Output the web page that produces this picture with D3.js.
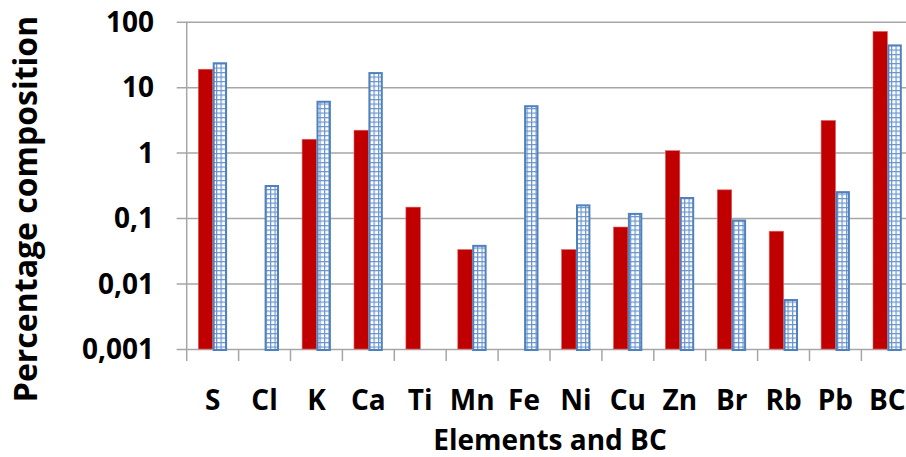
<!DOCTYPE html>
<html lang="en">
<head>
<meta charset="UTF-8">
<title>Percentage composition</title>
<script src="https://d3js.org/d3.v7.min.js"></script>
<style>
    body { margin: 0; background: #fff; font-family: "Open Sans", Arial, sans-serif; }
    svg text { font-weight: bold; fill: #000; }
</style>
</head>
<body>
<svg width="906" height="457"></svg>
<script>
    // categories along the x axis
    const categories = ["S", "Cl", "K", "Ca", "Ti", "Mn", "Fe", "Ni", "Cu", "Zn", "Br", "Rb", "Pb", "BC"];
    // red series (solid) and blue series (grid pattern), null = no bar
    const redValues  = [18.8, null, 1.6, 2.2, 0.147, 0.033, null, 0.033, 0.073, 1.07, 0.27, 0.063, 3.1, 71];
    const blueValues = [24, 0.32, 6.2, 17, null, 0.039, 5.3, 0.162, 0.12, 0.21, 0.095, 0.0058, 0.258, 45];
    const yTicks = [0.001, 0.01, 0.1, 1, 10, 100];
    const yTickLabels = ["0,001", "0,01", "0,1", "1", "10", "100"];

    const svg = d3.select("svg");
    const plotLeft = 186.7, plotTop = 21.7, plotBottom = 349;
    const step = 51.9;

    const x = d3.scaleBand()
        .domain(categories)
        .range([plotLeft, plotLeft + step * categories.length])
        .padding(0);

    const inner = d3.scaleBand()
        .domain(["red", "blue"])
        .range([11.6, 40.4])
        .padding(0);

    const y = d3.scaleLog()
        .domain([0.001, 100])
        .range([plotBottom, plotTop]);

    // pattern for blue bars
    const defs = svg.append("defs");
    const pat = defs.append("pattern")
        .attr("id", "grid")
        .attr("patternUnits", "userSpaceOnUse")
        .attr("width", 4.5).attr("height", 4.5);
    pat.append("rect").attr("width", 4.5).attr("height", 4.5).attr("fill", "#ffffff");
    pat.append("rect").attr("x", 0).attr("y", 0).attr("width", 1.2).attr("height", 4.5).attr("fill", "#6a95cc");
    pat.append("rect").attr("x", 0).attr("y", 0).attr("width", 4.5).attr("height", 1.2).attr("fill", "#6a95cc");

    // gridlines + y ticks
    const yAxis = d3.axisLeft(y)
        .tickValues(yTicks)
        .tickSize(-(x.range()[1] - plotLeft))
        .tickSizeOuter(0)
        .tickFormat("");
    const gy = svg.append("g")
        .attr("transform", `translate(${plotLeft},0)`)
        .call(yAxis);
    gy.select(".domain").remove();
    gy.selectAll(".tick line")
        .attr("x1", -10)
        .attr("stroke", "#a6a6a6")
        .attr("stroke-width", 1.5);

    // y-axis line
    svg.append("line")
        .attr("x1", plotLeft).attr("x2", plotLeft)
        .attr("y1", plotTop).attr("y2", plotBottom)
        .attr("stroke", "#a6a6a6").attr("stroke-width", 1.5);

    // x ticks between categories
    const bounds = categories.map(c => x(c)).concat([x.range()[1]]);
    svg.selectAll(".xtick")
        .data(bounds)
        .enter().append("line")
        .attr("x1", d => d).attr("x2", d => d)
        .attr("y1", plotBottom).attr("y2", plotBottom + 12)
        .attr("stroke", "#a6a6a6").attr("stroke-width", 1.5);

    // y tick labels
    svg.selectAll(".ylab")
        .data(yTicks)
        .enter().append("text")
        .attr("x", 154)
        .attr("y", d => y(d) + 10)
        .attr("text-anchor", "end")
        .attr("font-size", "28px")
        .text((d, i) => yTickLabels[i]);

    // bars
    const redData = categories.map((c, i) => ({ c, v: redValues[i] })).filter(d => d.v != null);
    const blueData = categories.map((c, i) => ({ c, v: blueValues[i] })).filter(d => d.v != null);

    svg.selectAll(".red")
        .data(redData)
        .enter().append("rect")
        .attr("x", d => x(d.c) + inner("red"))
        .attr("y", d => y(d.v))
        .attr("width", inner.bandwidth())
        .attr("height", d => plotBottom - y(d.v))
        .attr("fill", "#c00000")
        .attr("stroke", "#e06060")
        .attr("stroke-width", 0.6);

    svg.selectAll(".blue")
        .data(blueData)
        .enter().append("rect")
        .attr("x", d => x(d.c) + inner("blue") + 1)
        .attr("y", d => y(d.v) + 1)
        .attr("width", inner.bandwidth() - 2)
        .attr("height", d => plotBottom - y(d.v))
        .attr("fill", "url(#grid)")
        .attr("stroke", "#4f81bd")
        .attr("stroke-width", 2);

    // x labels
    svg.selectAll(".xlab")
        .data(categories)
        .enter().append("text")
        .attr("x", d => x(d) + x.bandwidth() / 2)
        .attr("y", 410)
        .attr("text-anchor", "middle")
        .attr("font-size", "28px")
        .text(d => d);

    // axis titles
    svg.append("text")
        .attr("x", 550)
        .attr("y", 450)
        .attr("text-anchor", "middle")
        .attr("font-size", "28px")
        .text("Elements and BC");

    svg.append("text")
        .attr("transform", "translate(37,209) rotate(-90)")
        .attr("text-anchor", "middle")
        .attr("font-size", "32px")
        .text("Percentage composition");
</script>
</body>
</html>
